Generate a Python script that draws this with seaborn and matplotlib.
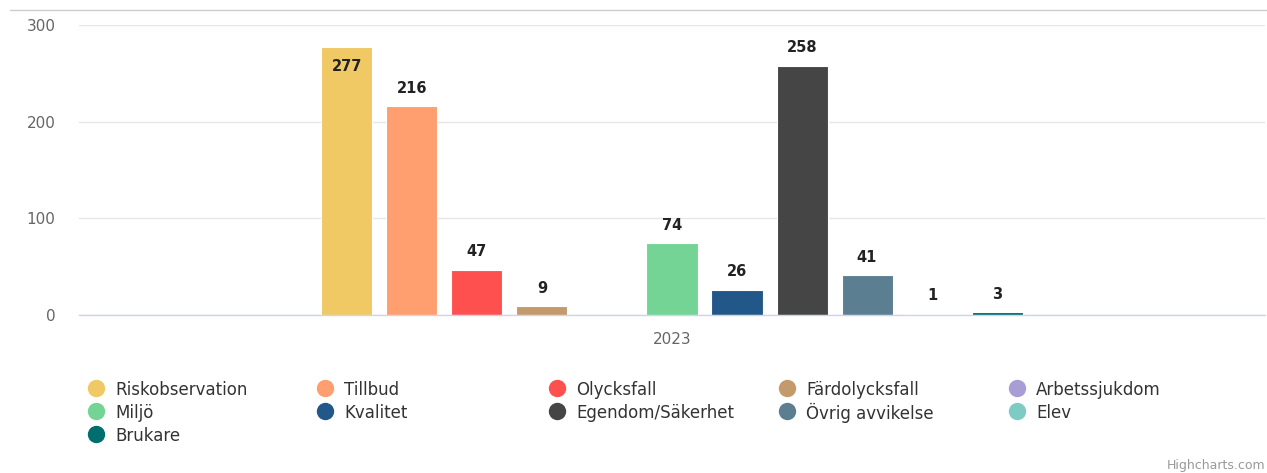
import numpy as np
import pandas as pd
import matplotlib
matplotlib.use("Agg")
import matplotlib.pyplot as plt
import seaborn as sns
from matplotlib.lines import Line2D

# ---- data ----
category = ["2023"]
series = ["Riskobservation", "Tillbud", "Olycksfall", "Färdolycksfall", "Arbetssjukdom",
          "Miljö", "Kvalitet", "Egendom/Säkerhet", "Övrig avvikelse", "Elev", "Brukare"]
values = [277, 216, 47, 9, np.nan, 74, 26, 258, 41, 1, 3]
colors = ["#F0C965", "#FF9E6E", "#FF5050", "#C49A6C", "#A99DD6",
          "#74D495", "#22578A", "#454545", "#5C7E91", "#7ECBC4", "#006E6E"]
y_ticks = [0, 100, 200, 300]

df = pd.DataFrame({"year": category * len(series), "series": series, "value": values})
palette = dict(zip(series, colors))

sns.set_theme(style="white")
plt.rcParams["font.family"] = ["DejaVu Sans"]

W, H = 1267, 473
fig = plt.figure(figsize=(W / 100, H / 100), dpi=100)
ax = fig.add_axes([79 / W, 1 - 315 / H, (1265 - 79) / W, (315 - 25) / H])

sns.barplot(data=df, x="year", y="value", hue="series", hue_order=series, palette=palette,
            width=0.603, gap=0.215, saturation=1, edgecolor="white", linewidth=0.8,
            legend=False, ax=ax, errorbar=None)

ax.set_xlim(-0.5, 0.5)
ax.set_ylim(0, 300)
ax.set_yticks(y_ticks)
ax.set_yticklabels([str(t) for t in y_ticks])
ax.set_xlabel("")
ax.set_ylabel("")
ax.grid(axis="y", color="#e6e6e6", linewidth=1)
ax.set_axisbelow(True)
for s in ["top", "right", "left"]:
    ax.spines[s].set_visible(False)
ax.spines["bottom"].set_color("#ccd6eb")
ax.spines["bottom"].set_linewidth(1)
ax.tick_params(axis="y", length=0, pad=17, labelsize=11, labelcolor="#666666")
ax.tick_params(axis="x", length=0, pad=12.5, labelsize=11, labelcolor="#666666")

# data labels
for cont, v in zip(ax.containers, values):
    if np.isnan(v):
        continue
    bar = cont.patches[0]
    xc = bar.get_x() + bar.get_width() / 2
    h = bar.get_height()
    off = -14 if h > 270 else 13
    ax.annotate(f"{int(v)}", (xc, h), xytext=(0, off), textcoords="offset points",
                ha="center", va="center", fontsize=10.5, fontweight="bold", color="#222222")

# top border line
fig.add_artist(Line2D([10 / W, 1.0], [1 - 10 / H, 1 - 10 / H], color="#cccccc", linewidth=1))

# legend: 5 columns, row-wise ordering (drawn item by item for even spacing)
col_x = [96, 325, 557, 787, 1017]
row_y = [388, 411, 434]
for i, (name, col) in enumerate(zip(series, colors)):
    r, c = divmod(i, 5)
    xm, ym = col_x[c] / W, 1 - row_y[r] / H
    fig.add_artist(Line2D([xm], [ym], marker="o", linestyle="none", markersize=11.5,
                          markerfacecolor=col, markeredgecolor=col))
    fig.text((col_x[c] + 19) / W, ym, name, ha="left", va="center_baseline",
             fontsize=12, color="#333333")

fig.text(1265 / W, 1 - 465 / H, "Highcharts.com", ha="right", va="center",
         fontsize=9, color="#999999")

fig.savefig("out.png", dpi=100)
